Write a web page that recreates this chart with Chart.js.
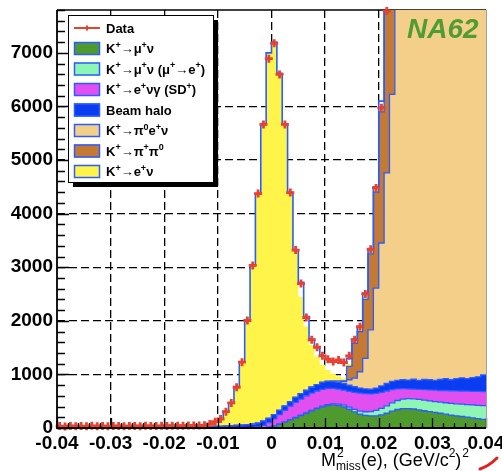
<!DOCTYPE html>
<html>
<head>
<meta charset="utf-8">
<script src="https://cdn.jsdelivr.net/npm/chart.js@4.4.1/dist/chart.umd.min.js"></script>
<style>
  html, body { margin: 0; padding: 0; background: #fff; }
  #wrap { width: 502px; height: 471px; }
</style>
</head>
<body>
<div id="wrap"><canvas id="histChart" width="502" height="471"></canvas></div>
<script>
// 80 bins of 0.001 GeV^2/c^4 from -0.04 to 0.04
var binStart = -0.04;
var binWidth = 0.001;
var xTicks = [-0.04, -0.03, -0.02, -0.01, 0, 0.01, 0.02, 0.03, 0.04];
var yTicks = [0, 1000, 2000, 3000, 4000, 5000, 6000, 7000];

// data, one value per bin (off-scale bins left out)
var dataCounts = [35, 30, 38, 33, 36, 31, 40, 34, 37, 32, 35, 39, 33, 36, 38, 34, 40, 37, 35, 41,
  38, 42, 40, 44, 46, 45, 48, 50, 75, 118, 168, 305, 467, 760, 1228, 2006, 3034, 4374, 5664, 6891,
  7178, 6598, 5664, 4393, 3320, 2695, 2062, 1645, 1508, 1346, 1284, 1240, 1271, 1220, 1346, 1645, 1888, 2502, 3335, 4480,
  5975, 7780, null, null, null, null, null, null, null, null, null, null, null, null, null, null, null, null, null, null];

// total MC outline
var mcTotal = [0, 0, 0, 0, 0, 0, 0, 0, 0, 0, 0, 0, 0, 0, 0, 0, 0, 0, 0, 0,
  0, 0, 0, 0, 8, 13, 25, 50, 75, 118, 168, 305, 467, 760, 1228, 2006, 3034, 4374, 5664, 7000,
  7200, 6620, 5664, 4393, 3320, 2720, 2080, 1660, 1500, 1350, 1290, 1245, 1260, 1230, 1300, 1660, 1900, 2520, 3350, 4500,
  6100, 8100, 9300, 11000, 12500, 14000, 15000, 16000, 17000, 17500, 18000, 18300, 18500, 18500, 18300, 18000, 17600, 17100, 16500, 15800];

// MC components, bottom of the stack first
var kMuNu = [0, 0, 0, 0, 0, 0, 0, 0, 0, 0, 0, 0, 0, 0, 0, 0, 0, 0, 0, 0,
  0, 0, 0, 0, 0, 0, 0, 0, 0, 0, 0, 0, 0, 0, 0, 0, 0, 0, 5, 15,
  35, 70, 110, 150, 190, 230, 275, 320, 360, 395, 420, 430, 420, 395, 350, 300, 260, 235, 225, 228,
  245, 275, 315, 345, 360, 362, 355, 340, 322, 305, 290, 275, 258, 242, 228, 215, 202, 188, 174, 160];
var kMuNuMuE = [0, 0, 0, 0, 0, 0, 0, 0, 0, 0, 0, 0, 0, 0, 0, 0, 0, 0, 0, 0,
  0, 0, 0, 0, 0, 0, 0, 0, 0, 0, 0, 0, 0, 0, 0, 0, 0, 0, 0, 0,
  3, 4, 5, 6, 7, 8, 9, 10, 12, 14, 17, 20, 25, 30, 38, 46, 56, 68, 82, 100,
  120, 138, 155, 168, 178, 185, 190, 195, 198, 200, 204, 208, 213, 218, 224, 230, 236, 242, 250, 258];
var kENuGammaSD = [0, 0, 0, 0, 0, 0, 0, 0, 0, 0, 0, 0, 0, 0, 0, 0, 0, 0, 0, 0,
  0, 0, 0, 0, 0, 0, 0, 0, 0, 0, 0, 0, 0, 0, 0, 0, 5, 20, 45, 85,
  132, 176, 215, 254, 283, 302, 316, 320, 318, 311, 303, 290, 280, 280, 297, 319, 334, 337, 328, 317,
  300, 277, 245, 217, 197, 183, 180, 185, 195, 205, 211, 217, 229, 235, 240, 245, 250, 255, 258, 262];
var beamHalo = [0, 0, 0, 0, 0, 0, 0, 0, 0, 0, 0, 0, 0, 0, 0, 0, 0, 0, 0, 0,
  0, 0, 0, 0, 5, 8, 15, 20, 25, 30, 32, 36, 40, 48, 55, 62, 65, 70, 80, 80,
  80, 80, 80, 80, 90, 100, 100, 110, 120, 130, 130, 125, 125, 125, 115, 105, 95, 90, 90, 100,
  120, 140, 155, 160, 165, 165, 187, 170, 190, 190, 185, 205, 220, 205, 228, 245, 232, 255, 273, 310];
var kPi0ENu = [0, 0, 0, 0, 0, 0, 0, 0, 0, 0, 0, 0, 0, 0, 0, 0, 0, 0, 0, 0,
  0, 0, 0, 0, 0, 0, 0, 0, 0, 0, 0, 0, 0, 0, 0, 0, 0, 0, 0, 0,
  0, 0, 0, 0, 0, 0, 0, 0, 0, 0, 0, 10, 25, 40, 100, 160, 305, 570, 1107, 1866,
  2667, 3930, 5354, 7600, 9500, 11200, 12800, 14000, 15200, 16000, 16800, 17300, 17700, 17900, 18000, 17800, 17500, 17000, 16400, 15600];
var kPiPi0 = [0, 0, 0, 0, 0, 0, 0, 0, 0, 0, 0, 0, 0, 0, 0, 0, 0, 0, 0, 0,
  0, 0, 0, 0, 0, 0, 0, 0, 0, 0, 0, 0, 0, 0, 0, 0, 0, 0, 0, 0,
  0, 0, 0, 0, 0, 0, 0, 0, 0, 0, 0, 0, 0, 10, 250, 650, 750, 1100, 1418, 1789,
  2448, 3240, 2800, 2400, 2000, 1600, 1200, 900, 600, 400, 250, 150, 80, 40, 20, 10, 5, 0, 0, 0];
var kENu = [0, 0, 0, 0, 0, 0, 0, 0, 0, 0, 0, 0, 0, 0, 0, 0, 0, 0, 0, 0,
  0, 0, 0, 0, 3, 5, 10, 30, 50, 88, 136, 269, 427, 712, 1173, 1944, 2964, 4284, 5534, 6820,
  6950, 6290, 5254, 3903, 2750, 1810, 1200, 790, 520, 330, 210, 135, 85, 50, 50, 60, 80, 100, 90, 80,
  100, 50, 30, 20, 15, 10, 8, 6, 5, 4, 3, 3, 2, 2, 2, 1, 1, 1, 1, 1];

var legendLabels = ['Data', 'K^+→μ^+ν', 'K^+→μ^+ν (μ^+→e^+)', 'K^+→e^+νγ (SD^+)', 'Beam halo',
  'K^+→π^0e^+ν', 'K^+→π^+π^0', 'K^+→e^+ν'];
var fillColors = ['#4e9a2e', '#8ff5b5', '#e24ff0', '#0a3df2', '#f4cf8a', '#c27a34', '#fff54a'];
var outlineBlue = '#2a5cff';
var dataRed = '#e8412f';
var fontFamily = '"Liberation Sans", Arial, sans-serif';

function edge(i) {
  return Math.round((binStart + i * binWidth) * 1e6) / 1e6;
}

// histogram as a stepped line: one point per lower edge, plus the last upper edge
function stepPoints(vals) {
  var pts = [];
  for (var i = 0; i <= vals.length; i++) {
    pts.push({ x: edge(i), y: vals[Math.min(i, vals.length - 1)] });
  }
  return pts;
}

function centerPoints(vals) {
  var pts = [];
  for (var i = 0; i < vals.length; i++) {
    if (vals[i] === null) continue;
    pts.push({ x: Math.round((binStart + (i + 0.5) * binWidth) * 1e7) / 1e7, y: vals[i] });
  }
  return pts;
}

function component(label, vals, idx) {
  return {
    label: label,
    data: stepPoints(vals),
    stepped: true,
    pointRadius: 0,
    borderColor: idx === 6 ? 'rgba(0,0,0,0)' : outlineBlue,
    borderWidth: 1.3,
    backgroundColor: fillColors[idx],
    fill: idx === 0 ? 'origin' : '-1',
    order: 2,
    clip: 0,
  };
}

// draws text where '^x' puts x as superscript
function drawRich(ctx, str, x, y, size, weight) {
  for (var i = 0; i < str.length; i++) {
    var ch = str[i];
    if (ch === '^') {
      i++;
      ctx.font = weight + ' ' + Math.round(size * 0.68) + 'px ' + fontFamily;
      ctx.fillText(str[i], x, y - size * 0.42);
      x += ctx.measureText(str[i]).width;
    } else {
      ctx.font = weight + ' ' + size + 'px ' + fontFamily;
      ctx.fillText(ch, x, y);
      x += ctx.measureText(ch).width;
    }
  }
  return x;
}

var decorations = {
  id: 'decorations',
  beforeDatasetsDraw: function (chart) {
    var a = chart.chartArea;
    var ctx = chart.ctx;
    ctx.save();
    ctx.strokeStyle = '#000';
    ctx.lineWidth = 1.5;
    ctx.beginPath();
    ctx.moveTo(a.left, a.top);
    ctx.lineTo(a.right, a.top);
    ctx.stroke();
    ctx.restore();
  },
  afterDatasetsDraw: function (chart) {
    var a = chart.chartArea;
    var ctx = chart.ctx;
    var xs = chart.scales.x;
    var ys = chart.scales.y;
    ctx.save();
    ctx.strokeStyle = '#000';
    ctx.lineWidth = 1.3;
    ctx.beginPath();
    // x ticks every 0.002
    for (var i = 0; i <= 40; i++) {
      var px = Math.round(xs.getPixelForValue(-0.04 + i * 0.002)) + 0.5;
      var len = i % 5 === 0 ? 10 : 5;
      ctx.moveTo(px, a.bottom);
      ctx.lineTo(px, a.bottom - len);
    }
    // y ticks every 200
    for (var j = 0; j <= 39; j++) {
      var py = Math.round(ys.getPixelForValue(j * 200)) + 0.5;
      var ylen = j % 5 === 0 ? 12 : 8;
      ctx.moveTo(a.left, py);
      ctx.lineTo(a.left + ylen, py);
    }
    ctx.stroke();
    ctx.lineWidth = 1.8;
    ctx.beginPath();
    ctx.moveTo(a.left, a.top);
    ctx.lineTo(a.left, a.bottom);
    ctx.lineTo(a.right, a.bottom);
    ctx.stroke();
    ctx.strokeStyle = '#a0a0a0';
    ctx.lineWidth = 1;
    ctx.beginPath();
    ctx.moveTo(a.right + 0.5, a.top);
    ctx.lineTo(a.right + 0.5, a.bottom);
    ctx.stroke();
    ctx.restore();
  },
  afterDraw: function (chart) {
    var ctx = chart.ctx;
    ctx.save();

    // legend box with shadow
    var bx = 68, by = 15, bw = 145, bh = 167;
    ctx.fillStyle = '#000';
    ctx.fillRect(bx + 5, by + 5, bw, bh);
    ctx.fillStyle = '#fff';
    ctx.fillRect(bx, by, bw, bh);
    ctx.strokeStyle = '#000';
    ctx.lineWidth = 1;
    ctx.strokeRect(bx + 0.5, by + 0.5, bw, bh);

    ctx.textBaseline = 'alphabetic';
    for (var i = 0; i < legendLabels.length; i++) {
      var cy = 28 + i * 20.5;
      if (i === 0) {
        ctx.strokeStyle = dataRed;
        ctx.lineWidth = 2;
        ctx.beginPath();
        ctx.moveTo(74, cy);
        ctx.lineTo(100, cy);
        ctx.moveTo(87, cy - 2.5);
        ctx.lineTo(87, cy + 2.5);
        ctx.stroke();
      } else {
        ctx.fillStyle = fillColors[i - 1];
        ctx.fillRect(74, cy - 6.5, 26, 13);
        ctx.strokeStyle = outlineBlue;
        ctx.lineWidth = 1.5;
        ctx.strokeRect(74.5, cy - 6, 25, 12);
      }
      ctx.fillStyle = '#000';
      drawRich(ctx, legendLabels[i], 106, cy + 4.5, 13, 'bold');
    }

    // experiment tag
    ctx.fillStyle = '#4f9c35';
    ctx.font = 'italic bold 28px ' + fontFamily;
    ctx.fillText('NA62', 407, 38);

    // x axis title
    ctx.fillStyle = '#000';
    var x = 321, base = 466;
    ctx.font = '18px ' + fontFamily;
    ctx.fillText('M', x, base);
    x += ctx.measureText('M').width;
    ctx.font = '12px ' + fontFamily;
    ctx.fillText('2', x + 1, base - 9);
    ctx.fillText('miss', x, base + 4);
    x += ctx.measureText('miss').width;
    ctx.font = '18px ' + fontFamily;
    ctx.fillText('(e), (GeV/c', x, base);
    x += ctx.measureText('(e), (GeV/c').width;
    ctx.font = '12px ' + fontFamily;
    ctx.fillText('2', x, base - 9);
    x += ctx.measureText('2').width;
    ctx.font = '18px ' + fontFamily;
    ctx.fillText(')', x, base);
    x += ctx.measureText(')').width;
    ctx.font = '12px ' + fontFamily;
    ctx.fillText('2', x + 1, base - 9);

    // red pen mark in the corner
    ctx.strokeStyle = '#e0201c';
    ctx.lineWidth = 3;
    ctx.lineCap = 'round';
    ctx.beginPath();
    ctx.moveTo(480, 469);
    ctx.quadraticCurveTo(489, 466, 497, 458);
    ctx.stroke();
    ctx.restore();
  },
};

function edgeGrid(ctx) {
  var n = ctx.chart.scales[ctx.scale.id].ticks.length;
  if (ctx.index === 0 || ctx.index === n - 1) return 'rgba(0,0,0,0)';
  return '#000';
}

var datasets = [
  component('K+→μ+ν', kMuNu, 0),
  component('K+→μ+ν (μ+→e+)', kMuNuMuE, 1),
  component('K+→e+νγ (SD+)', kENuGammaSD, 2),
  component('Beam halo', beamHalo, 3),
  component('K+→π0e+ν', kPi0ENu, 4),
  component('K+→π+π0', kPiPi0, 5),
  component('K+→e+ν', kENu, 6),
  {
    label: 'MC total',
    data: stepPoints(mcTotal),
    stepped: true,
    fill: false,
    pointRadius: 0,
    borderColor: outlineBlue,
    borderWidth: 1.6,
    stack: 'total',
    order: 1,
    clip: 0,
  },
  {
    label: 'Data',
    data: centerPoints(dataCounts),
    showLine: false,
    pointStyle: 'cross',
    pointRadius: 4,
    borderColor: dataRed,
    backgroundColor: dataRed,
    borderWidth: 2.8,
    stack: 'data',
    order: 0,
    clip: 6,
  },
];

var tickFont = { family: fontFamily, size: 19, weight: 'bold' };

new Chart(document.getElementById('histChart'), {
  type: 'line',
  data: { datasets: datasets },
  options: {
    responsive: false,
    animation: false,
    devicePixelRatio: 1,
    layout: { padding: { left: 0, right: 16, top: 10, bottom: 0 } },
    plugins: { legend: { display: false }, tooltip: { enabled: false } },
    scales: {
      x: {
        type: 'linear',
        min: xTicks[0],
        max: xTicks[xTicks.length - 1],
        afterBuildTicks: function (scale) {
          scale.ticks = xTicks.map(function (v) { return { value: v }; });
        },
        ticks: {
          autoSkip: false,
          maxRotation: 0,
          font: tickFont,
          color: '#000',
          padding: 4,
          callback: function (v) {
            return Math.abs(v) < 1e-9 ? '0' : (Math.round(v * 100) / 100).toFixed(2);
          },
        },
        grid: { color: edgeGrid, lineWidth: 1.3, drawTicks: false },
        border: { display: false, dash: [8, 4] },
        afterFit: function (scale) {
          scale.height = 43;
          scale.paddingLeft = 0;
          scale.paddingRight = 0;
        },
      },
      y: {
        stacked: true,
        min: 0,
        max: 7800,
        afterBuildTicks: function (scale) {
          scale.ticks = yTicks.map(function (v) { return { value: v }; });
        },
        ticks: {
          font: tickFont,
          color: '#000',
          padding: 4,
          callback: function (v) { return String(v); },
        },
        grid: { color: edgeGrid, lineWidth: 1.3, drawTicks: false },
        border: { display: false, dash: [8, 4] },
        afterFit: function (scale) {
          scale.width = 57;
          scale.paddingTop = 0;
          scale.paddingBottom = 0;
        },
      },
    },
  },
  plugins: [decorations],
});
</script>
</body>
</html>
